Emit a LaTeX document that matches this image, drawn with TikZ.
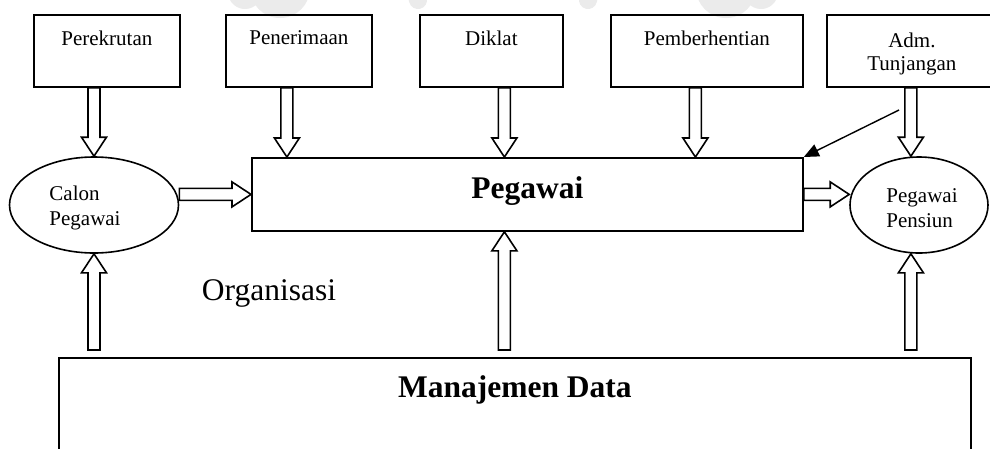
\documentclass[tikz,border=0pt]{standalone}
\usepackage{fontspec}
\setmainfont{Liberation Serif}
\usetikzlibrary{calc,arrows.meta,shapes.geometric}

\tikzset{
  box/.style={draw, line width=1.8pt, rectangle, inner sep=0pt, anchor=north west},
  oval/.style={draw, line width=1.6pt, ellipse, inner sep=0pt},
  txt/.style={font=\fontsize{21}{24}\selectfont, inner sep=0pt, anchor=center, align=center},
  ovaltxt/.style={font=\fontsize{21}{25}\selectfont, inner sep=0pt, anchor=center, align=left},
  bigtxt/.style={font=\fontsize{31.5}{36}\selectfont, inner sep=0pt},
  bigbold/.style={font=\fontsize{31.5}{36}\selectfont\bfseries, inner sep=0pt, anchor=center},
  hollow/.style={draw, line width=1.6pt, fill=white, line join=miter},
  wmark/.style={draw=black!8, line cap=round},
}

% hollow block arrow from #1 to #2
\newcommand\blockarrow[2]{%
  \coordinate (hb) at ($(#2)!19pt!(#1)$);
  \draw[hollow] ($(#1)!6pt!90:(#2)$) -- ($(hb)!6pt!90:(#2)$)
    -- ($(hb)!12.5pt!90:(#2)$) -- (#2) -- ($(hb)!12.5pt!-90:(#2)$)
    -- ($(hb)!6pt!-90:(#2)$) -- ($(#1)!6pt!-90:(#2)$) -- cycle;
}

\begin{document}
\begin{tikzpicture}[x=1pt, y=1pt]
\useasboundingbox (0,0) rectangle (990,-448);
\fill[white] (0,0) rectangle (990,-448);
\clip (0,0) rectangle (990,-448);

% faint emblem in the background
\draw[wmark, line width=34pt] (245,8) .. controls (290,60) and (340,105) .. (410,128);
\draw[wmark, line width=34pt] (761,8) .. controls (716,60) and (666,105) .. (596,128);
\draw[wmark, line width=18pt] (418,0) .. controls (400,70) and (440,125) .. (503,125)
      .. controls (566,125) and (606,70) .. (588,0);
\fill[black!8] (280,12) circle (30);
\fill[black!8] (726,12) circle (30);

% source processes
\node[box, minimum width=146pt, minimum height=72pt,
      label={[txt, yshift=-24pt]north:Perekrutan}] (perek) at (33,-14) {};
\node[box, minimum width=146pt, minimum height=72pt,
      label={[txt, yshift=-24pt]north:Penerimaan}] (pen) at (225,-14) {};
\node[box, minimum width=143pt, minimum height=72pt,
      label={[txt, yshift=-24pt]north:Diklat}] (dik) at (419,-14) {};
\node[box, minimum width=192pt, minimum height=72pt,
      label={[txt, yshift=-24pt]north:Pemberhentian}] (pem) at (610,-14) {};
\node[box, minimum width=170pt, minimum height=72pt,
      label={[txt, font=\fontsize{21}{23}\selectfont, yshift=-39.5pt]north:Adm.\\Tunjangan}] (adm) at (826,-14) {};

% central entities
\node[box, minimum width=551pt, minimum height=73pt,
      label={[bigbold, yshift=3.5pt]center:Pegawai}] (peg) at (251,-157) {};
\node[oval, minimum width=169pt, minimum height=96pt,
      label={[ovaltxt, xshift=-9pt, yshift=-3pt]center:Calon\\Pegawai}] (calon) at (94,-205) {};
\node[oval, minimum width=138pt, minimum height=96pt,
      label={[ovaltxt, xshift=3pt, yshift=-3pt]center:Pegawai\\Pensiun}] (pens) at (919,-205) {};

\node[bigtxt] (org) at (269,-293) {Organisasi};

\node[box, minimum width=912pt, minimum height=103pt,
      label={[bigbold, yshift=-33pt]north:Manajemen Data}] (mgmt) at (58,-357) {};

% arrow end points
\coordinate (a1s) at (perek.south -| calon.north);
\coordinate (a2s) at ([xshift=-12pt]pen.south);
\coordinate (a2e) at (a2s |- peg.north);
\coordinate (a3s) at ([xshift=13pt]dik.south);
\coordinate (a3e) at (a3s |- peg.north);
\coordinate (a4s) at ([xshift=-11.5pt]pem.south);
\coordinate (a4e) at (a4s |- peg.north);
\coordinate (a5s) at ([xshift=-1pt]adm.south);
\coordinate (a5e) at (a5s |- pens.north);
\coordinate (h1s) at (calon.east |- peg.west);
\coordinate (h2e) at (pens.west |- peg.east);
\coordinate (b1s) at ($(calon.south |- mgmt.north)+(0,7)$);
\coordinate (b2s) at ($(a3s |- mgmt.north)+(0,7)$);
\coordinate (b2e) at (a3s |- peg.south);
\coordinate (b3s) at ($(a5s |- mgmt.north)+(0,7)$);
\coordinate (b3e) at (a5s |- pens.south);
\coordinate (slant) at (899,-110);

% flows
\blockarrow{a1s}{calon.north}
\blockarrow{a2s}{a2e}
\blockarrow{a3s}{a3e}
\blockarrow{a4s}{a4e}
\blockarrow{a5s}{a5e}
\blockarrow{h1s}{peg.west}
\blockarrow{peg.east}{h2e}
\blockarrow{b1s}{calon.south}
\blockarrow{b2s}{b2e}
\blockarrow{b3s}{b3e}

\draw[line width=1.4pt, -{Triangle[length=15pt, width=13pt]}] (slant) -- (peg.north east);

\end{tikzpicture}
\end{document}
